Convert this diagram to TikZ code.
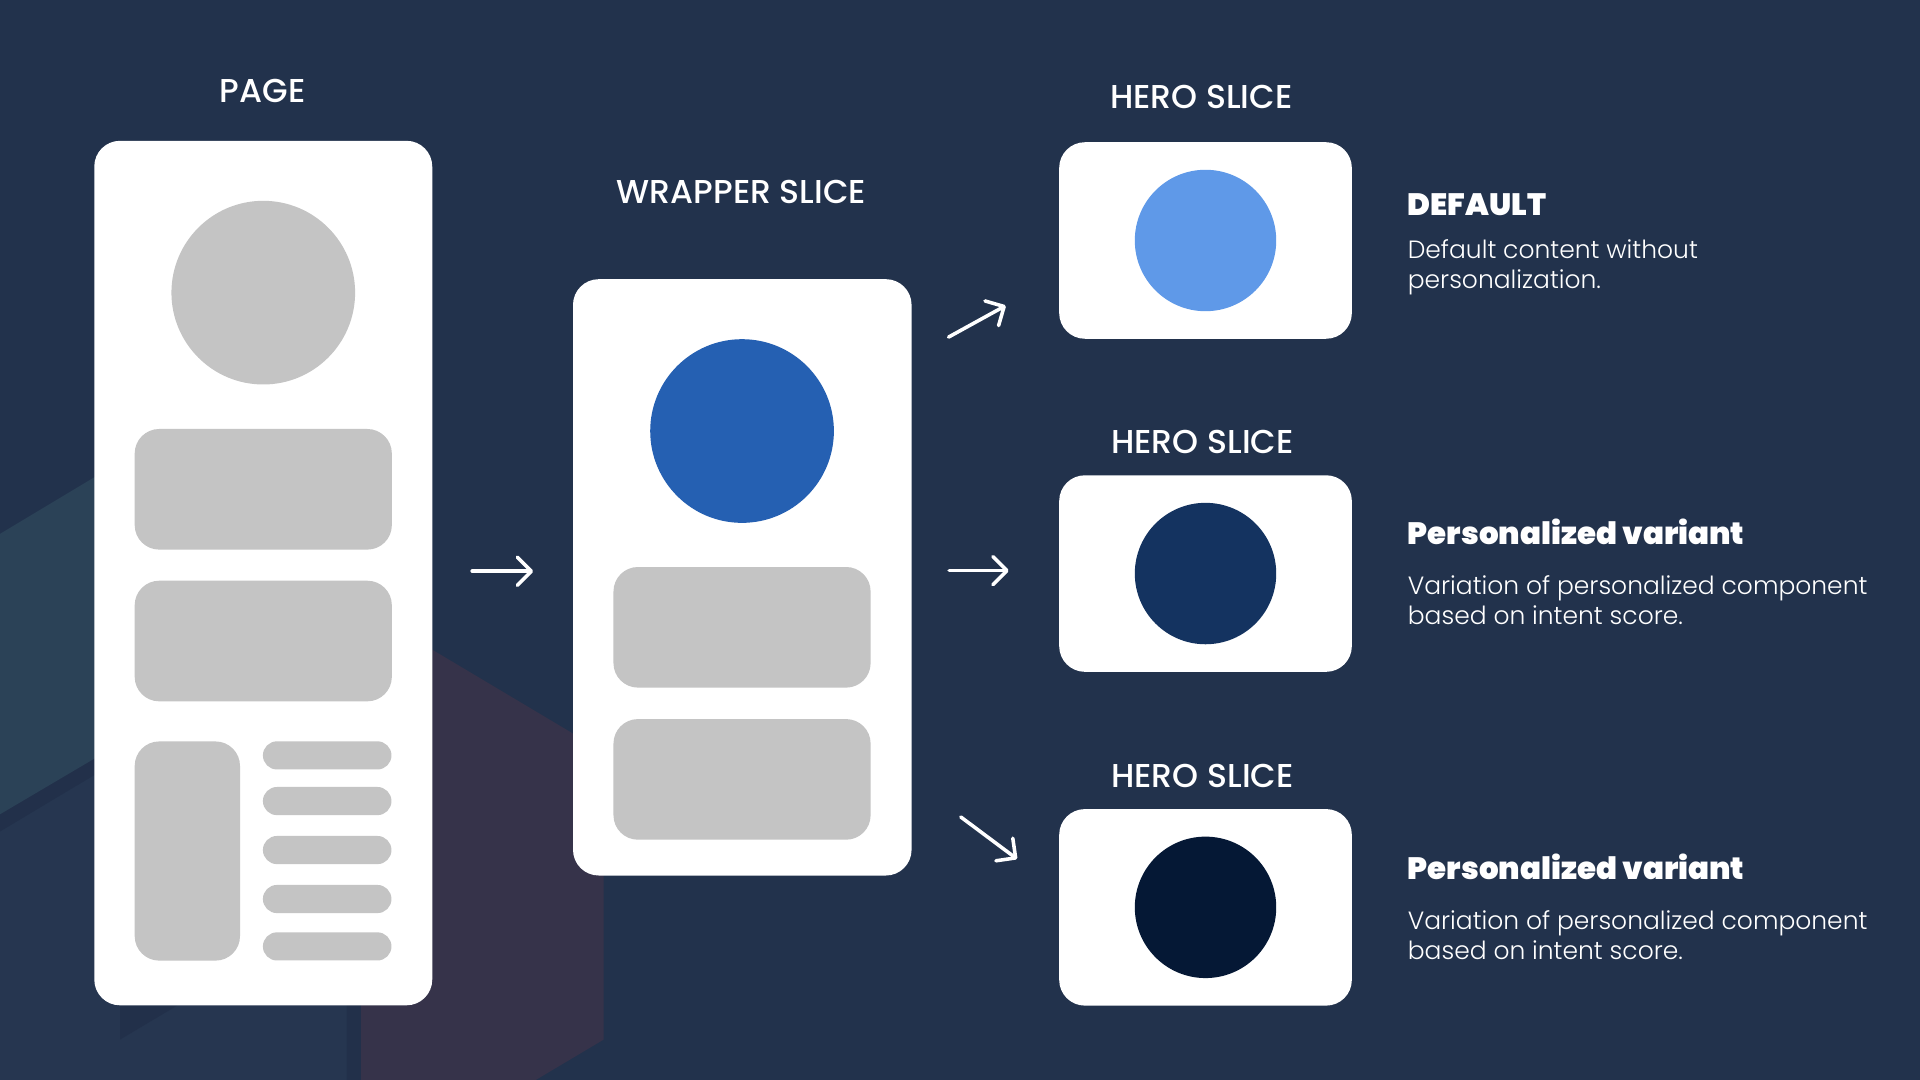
\documentclass[tikz,border=0pt]{standalone}
\usepackage{fontspec}
\setmainfont{Poppins}
\newfontfamily\titlefont{Poppins Medium}
\newfontfamily\headfont{Poppins Black}
\newfontfamily\bodyfont{Poppins Light}
\usetikzlibrary{arrows.meta,calc}
\definecolor{bg}{HTML}{22324C}
\definecolor{bglow}{HTML}{263650}
\definecolor{teal}{HTML}{2B4257}
\definecolor{darkband}{HTML}{22304A}
\definecolor{purp}{HTML}{36334A}
\definecolor{graybox}{HTML}{C4C4C4}
\definecolor{blueA}{HTML}{2560B2}
\definecolor{blueL}{HTML}{5F99E8}
\definecolor{blueM}{HTML}{143360}
\definecolor{blueD}{HTML}{051835}
\begin{document}
\begin{tikzpicture}[x=1pt,y=-1pt,
  card/.style={fill=white, rounded corners=21pt, inner sep=0pt, draw=none},
  blockg/.style={fill=graybox, rounded corners=20pt, inner sep=0pt, draw=none},
  pill/.style={fill=graybox, rounded corners=11.5pt, inner sep=0pt, draw=none, minimum width=105pt, minimum height=23pt},
  disc/.style={circle, inner sep=0pt, draw=none},
  ttl/.style={text=white, font=\titlefont\fontsize{27}{31}\selectfont, anchor=base, inner sep=0pt},
  head/.style={text=white, font=\headfont\fontsize{25.2}{29}\selectfont, anchor=base west, inner sep=0pt},
  body/.style={text=white, font=\bodyfont\fontsize{20.4}{24.5}\selectfont, anchor=base west, inner sep=0pt, align=left},
  arr/.style={draw=white, line width=2.9pt, line cap=round, line join=round, -{Straight Barb[length=11.5pt,width=23pt,round]}}
]
% background
\fill[bg] (0,0) rectangle (1568,882);
\useasboundingbox (0,0) rectangle (1568,882);
\fill[bglow] (0,679) -- (283,510) -- (283,882) -- (0,882) -- cycle;
\fill[darkband] (0,665) -- (120,593) -- (120,607) -- (0,679) -- cycle;
\fill[teal] (0,436) -- (100,376) -- (100,606) -- (0,665) -- cycle;
\fill[darkband] (98,821) -- (145,821) -- (98,849) -- cycle;
\fill[darkband] (283,480) -- (295,480) -- (295,882) -- (283,882) -- cycle;
\fill[purp] (295,496) -- (493,614) -- (493,849) -- (437.5,882) -- (295,882) -- cycle;

% page card
\node[card, minimum width=276pt, minimum height=706pt] (page) at (215,468) {};
\node[disc, fill=graybox, minimum size=150pt] (pcirc) at (215,239) {};
\node[blockg, minimum width=210pt, minimum height=98.5pt] (prect1) at (215,399.6) {};
\node[blockg, minimum width=210pt, minimum height=98.5pt] (prect2) at (215,523.5) {};
\node[blockg, minimum width=86pt, minimum height=179pt] (ptall) at (153,695) {};
\node[pill] (pl1) at (267.2,616.9) {};
\node[pill] (pl2) at (267.2,654.2) {};
\node[pill] (pl3) at (267.2,694.2) {};
\node[pill] (pl4) at (267.2,734.2) {};
\node[pill] (pl5) at (267.2,772.9) {};

% wrapper card
\node[card, minimum width=276.5pt, minimum height=487pt] (wrap) at (606.2,471.5) {};
\node[disc, fill=blueA, minimum size=150pt] (wcirc) at (606,352) {};
\node[blockg, minimum width=210pt, minimum height=98.5pt] (wrect1) at (606,512.3) {};
\node[blockg, minimum width=210pt, minimum height=98.5pt] (wrect2) at (606,636.5) {};

% hero cards
\node[card, minimum width=239pt, minimum height=160.5pt] (hero1) at (984.5,196.4) {};
\node[disc, fill=blueL, minimum size=115.5pt] (hc1) at (984.5,196.4) {};
\node[card, minimum width=239pt, minimum height=160.5pt] (hero2) at (984.5,468.4) {};
\node[disc, fill=blueM, minimum size=115.5pt] (hc2) at (984.5,468.4) {};
\node[card, minimum width=239pt, minimum height=160.5pt] (hero3) at (984.5,741) {};
\node[disc, fill=blueD, minimum size=115.5pt] (hc3) at (984.5,741) {};

% titles
\node[ttl] (tpage) at (214.5,84) {PAGE};
\node[ttl] (twrap) at (605.6,166.5) {WRAPPER SLICE};
\node[ttl] (th1) at (981,88.5) {HERO SLICE};
\node[ttl] (th2) at (982,370.5) {HERO SLICE};
\node[ttl] (th3) at (982,643) {HERO SLICE};

% descriptions (base anchor = last line baseline)
\node[head] (d1h) at (1149.5,175.6) {DEFAULT};
\node[body] (d1b) at (1149.5,236) {Default content without\\personalization.};
\node[head] (d2h) at (1149.5,445) {Personalized variant};
\node[body] (d2b) at (1149.5,509.6) {Variation of personalized component\\based on intent score.};
\node[head] (d3h) at (1149.5,718) {Personalized variant};
\node[body] (d3b) at (1149.5,783.5) {Variation of personalized component\\based on intent score.};

% arrows
\coordinate (a1s) at ($(page.east)+(32.4,-1.5)$);
\coordinate (a1e) at ($(wrap.west)+(-32.3,-5)$);
\coordinate (a2s) at ($(wrap.north east)+(30,47.5)$);
\coordinate (a2e) at ($(hero1.west)+(-43.5,53.2)$);
\coordinate (a3s) at ($(wrap.east)+(30.5,-5.5)$);
\coordinate (a3e) at ($(hero2.west)+(-41,-2.4)$);
\coordinate (a4s) at ($(wrap.south east)+(40,-48)$);
\coordinate (a4e) at ($(hero3.west)+(-34.2,-39.5)$);
\draw[arr] (a1s) -- (a1e);
\draw[arr] (a2s) -- (a2e);
\draw[arr] (a3s) -- (a3e);
\draw[arr] (a4s) -- (a4e);
\end{tikzpicture}
\end{document}
